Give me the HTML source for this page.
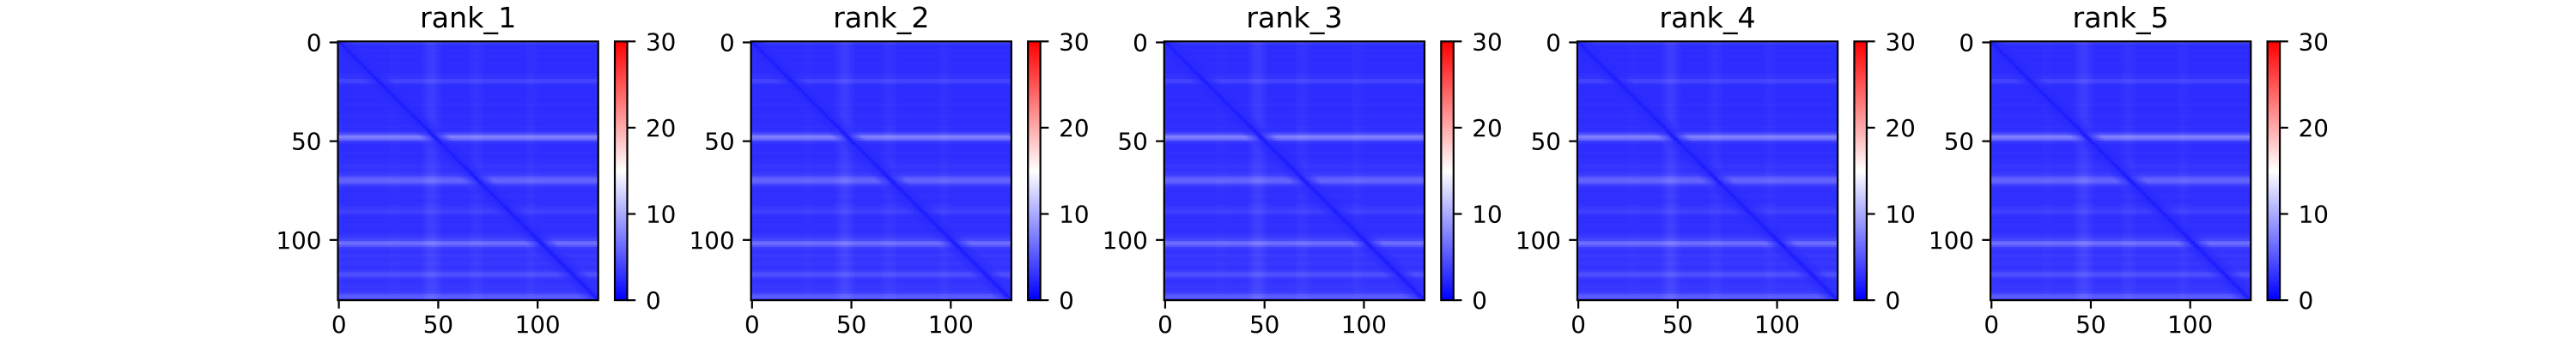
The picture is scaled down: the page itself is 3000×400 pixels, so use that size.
<!DOCTYPE html>
<html><head><meta charset="utf-8"><style>
html,body{margin:0;padding:0;background:#fff;}
#root{position:relative;width:3000px;height:400px;overflow:hidden;font-family:"DejaVu Sans","Liberation Sans",sans-serif;}
canvas{position:absolute;image-rendering:pixelated;}
svg{position:absolute;left:0;top:0;}
</style></head><body>
<div id="root"></div>
<script>
const panelTitles=["rank_1","rank_2","rank_3","rank_4","rank_5"];
const axisTicks=[0,50,100];
const cbarTicks=[0,10,20,30];
const vmin=0, vmax=30, nCells=131;
const rowLevel=[4.5,3,2.6,2.6,2.7,2.6,2.6,2.7,2.6,2.6,
2.6,2.7,2.6,2.6,2.7,2.6,2.8,2.9,3,3.8,
4,3.2,2.7,2.6,2.6,2.7,2.6,2.6,2.7,2.6,
2.6,2.7,2.8,2.6,2.6,2.7,2.6,2.8,2.7,2.6,
2.7,2.6,2.8,2.9,2.7,3,4,6,7.5,6.5,
4,3,2.7,2.6,2.7,2.6,2.8,2.7,2.6,2.7,
2.8,2.9,3,3.2,3,2.9,3.3,3.6,4.5,5.5,
6,5.5,4,3.2,2.9,2.8,2.7,2.8,2.9,2.8,
2.7,2.8,2.9,3.1,3.3,3.6,3.8,3.2,2.8,2.7,
2.8,2.7,2.8,2.9,2.8,2.7,2.8,3,3.2,3.5,
4.2,6,6.5,5,3.6,3.2,3,3.2,3.4,3.1,
3,3.2,3.3,3.1,3,3.2,3.6,4.5,4.6,3.6,
3.2,3,3.1,3.2,3.3,3.2,3.4,3.8,5,5.5,
4.2];
const colOffset=[0.2,0,0,0,0,0,0,0,0,0,
0,0,0,0,0,0,0,0,0,0,
0,0,0,0,0,0,0.1,0.1,0.1,0.1,
0.1,0,0,0,0,0,0,0,0,0,
0,0,0.2,0.4,0.6,0.8,0.9,0.9,0.8,0.6,
0.4,0.2,0,0,0,0,0,0,0,0,
0,0,0,0,0,0,0.2,0.3,0.4,0.4,
0.4,0.3,0.2,0,0,0,0,0,0,0,
0,0,0,0,0,0,0,0,0,0,
0,0,0,0,0.1,0.2,0.3,0.3,0.2,0.1,
0,0,0,0,0,0,0,0,0,0,
0,0,0,0,0,0,0,0,0,0,
0,0,0,0,0,0,0,0,0,0,
0];
const diagValue=1.6;

const root=document.getElementById('root');
const NS="http://www.w3.org/2000/svg";
const svg=document.createElementNS(NS,'svg');
svg.setAttribute('width','3000');svg.setAttribute('height','400');


root.appendChild(svg);

function bwr(v){
  let f=Math.max(0,Math.min(1,(v-vmin)/(vmax-vmin)));
  if(f<0.5){const c=Math.round(2*f*255);return `rgb(${c},${c},255)`;}
  const c=Math.round((1-f)*2*255);return `rgb(255,${c},${c})`;
}
function mk(tag,attrs,parent){const e=document.createElementNS(NS,tag);for(const k in attrs)e.setAttribute(k,attrs[k]);(parent||svg).appendChild(e);return e;}

const X0=393.5,Y0=48.3,W=303.2,H=301.8,STEP=481.15;
const CBX=716,CBW=14.5;
panelTitles.forEach((title,p)=>{
  const ox=X0+p*STEP;
  const sy=v=>Y0+(v+0.5)*H/nCells;
  const cv=document.createElement('canvas');
  cv.width=nCells;cv.height=nCells;
  cv.style.left=ox+'px';cv.style.top=Y0+'px';cv.style.width=W+'px';cv.style.height=H+'px';
  
  
  root.insertBefore(cv,svg);
  const ctx=cv.getContext('2d');
  for(let i=0;i<nCells;i++)for(let j=0;j<nCells;j++){
    const d=Math.abs(i-j);
    let v;
    if(d===0)v=diagValue;
    else{const fade=Math.min(1,d/8);v=2.4+(rowLevel[i]-2.4)*fade+colOffset[j]*fade;if(d<2)v=Math.min(v,diagValue+0.5);}
    ctx.fillStyle=bwr(v);ctx.fillRect(j,i,1,1);
  }
  const g=mk('g',{});
  
  
  const t=mk('text',{x:ox+W/2,y:32,'text-anchor':'middle','font-size':'33.3',fill:'#000'},g);
  t.textContent=title;
  
  
  const fr=mk('rect',{x:ox,y:Y0,width:W,height:H,fill:'none',stroke:'#000','stroke-width':'2.2'},g);
  
  
  axisTicks.forEach(tv=>{
    const xx=ox+(tv+0.5)*W/nCells;
    mk('line',{x1:xx,x2:xx,y1:Y0+H,y2:Y0+H+9.7,stroke:'#000','stroke-width':'2.2'},g);
    const xl=mk('text',{x:xx,y:388,'text-anchor':'middle','font-size':'27.8',fill:'#000'},g);
    xl.textContent=tv;
    
    
    const yy=sy(tv);
    mk('line',{x1:ox-9.7,x2:ox,y1:yy,y2:yy,stroke:'#000','stroke-width':'2.2'},g);
    const yl=mk('text',{x:ox-19,y:yy+10,'text-anchor':'end','font-size':'27.8',fill:'#000'},g);
    yl.textContent=tv;
    
    
  });
  const cx=CBX+p*STEP;
  const gid='cbg'+p;
  const defs=mk('defs',{},g);
  const lg=mk('linearGradient',{id:gid,x1:0,y1:1,x2:0,y2:0},defs);
  mk('stop',{offset:'0','stop-color':'rgb(0,0,255)'},lg);
  mk('stop',{offset:'0.5','stop-color':'rgb(255,255,255)'},lg);
  mk('stop',{offset:'1','stop-color':'rgb(255,0,0)'},lg);
  const cb=mk('rect',{x:cx,y:Y0,width:CBW,height:H,fill:`url(#${gid})`,stroke:'#000','stroke-width':'2.2'},g);
  
  
  cbarTicks.forEach(tv=>{
    const yy=Y0+H-(tv-vmin)/(vmax-vmin)*H;
    mk('line',{x1:cx+CBW,x2:cx+CBW+9.7,y1:yy,y2:yy,stroke:'#000','stroke-width':'2.2'},g);
    const cl=mk('text',{x:cx+36,y:yy+10,'font-size':'27.8',fill:'#000'},g);
    cl.textContent=tv;
    
    
  });
});
</script>
</body></html>
